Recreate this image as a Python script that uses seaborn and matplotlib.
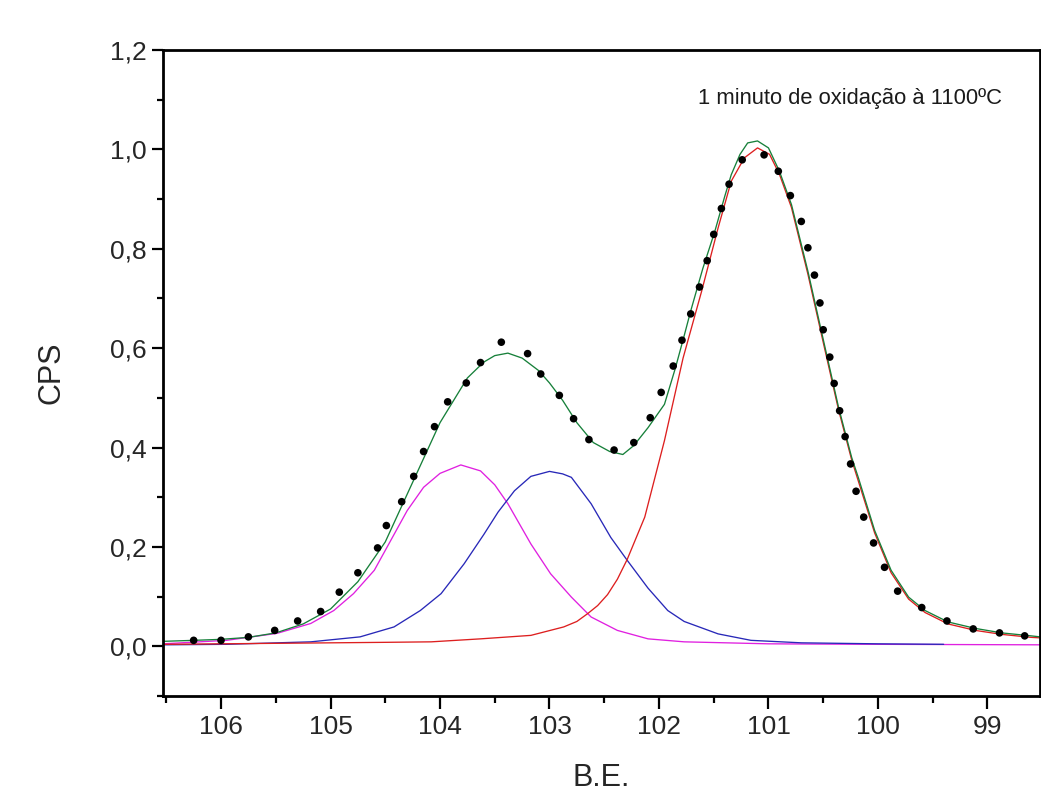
import matplotlib
matplotlib.use("Agg")
import matplotlib.pyplot as plt
from matplotlib.ticker import MultipleLocator, FuncFormatter
import seaborn as sns

# ---- data ----
data_x = [106.25, 106.00, 105.75, 105.51, 105.30, 105.09, 104.92, 104.75, 104.57, 104.49,
          104.35, 104.24, 104.15, 104.05, 103.93, 103.76, 103.63, 103.44, 103.20, 103.08,
          102.91, 102.78, 102.64, 102.41, 102.23, 102.08, 101.98, 101.87, 101.79, 101.71,
          101.63, 101.56, 101.50, 101.43, 101.36, 101.24, 101.04, 100.91, 100.80, 100.70,
          100.64, 100.58, 100.53, 100.50, 100.44, 100.40, 100.35, 100.30, 100.25, 100.20,
          100.13, 100.04, 99.94, 99.82, 99.60, 99.37, 99.13, 98.89, 98.66]
data_y = [0.012, 0.012, 0.019, 0.032, 0.051, 0.070, 0.109, 0.148, 0.198, 0.243,
          0.291, 0.342, 0.392, 0.442, 0.492, 0.530, 0.571, 0.612, 0.589, 0.548,
          0.505, 0.458, 0.416, 0.395, 0.410, 0.460, 0.511, 0.564, 0.616, 0.669,
          0.723, 0.776, 0.829, 0.881, 0.930, 0.979, 0.989, 0.956, 0.907, 0.855,
          0.802, 0.747, 0.691, 0.637, 0.582, 0.529, 0.474, 0.422, 0.367, 0.312,
          0.260, 0.208, 0.159, 0.111, 0.078, 0.051, 0.035, 0.027, 0.021]

env_x = [106.53, 106.25, 106.0, 105.75, 105.5, 105.25, 105.0, 104.75, 104.5, 104.25,
         104.0, 103.75, 103.6, 103.5, 103.38, 103.25, 103.1, 103.0, 102.88, 102.75,
         102.6, 102.45, 102.33, 102.23, 102.1, 101.95, 101.85, 101.77, 101.71, 101.6,
         101.49, 101.4, 101.34, 101.26, 101.19, 101.10, 101.00, 100.90, 100.79, 100.64,
         100.49, 100.36, 100.24, 100.18, 100.03, 99.88, 99.72, 99.57, 99.36, 99.11,
         98.87, 98.6, 98.52]
env_y = [0.010, 0.012, 0.014, 0.018, 0.027, 0.045, 0.075, 0.13, 0.21, 0.33,
         0.45, 0.54, 0.572, 0.585, 0.590, 0.58, 0.555, 0.53, 0.495, 0.45,
         0.41, 0.392, 0.386, 0.404, 0.44, 0.487, 0.56, 0.625, 0.675, 0.76,
         0.835, 0.905, 0.949, 0.99, 1.013, 1.017, 1.003, 0.956, 0.889, 0.755,
         0.608, 0.481, 0.38, 0.34, 0.233, 0.153, 0.099, 0.072, 0.049, 0.036,
         0.027, 0.021, 0.019]

p1_x = [106.53, 105.5, 104.5, 104.08, 103.63, 103.17, 102.87, 102.75, 102.65, 102.56,
        102.47, 102.38, 102.29, 102.13, 101.95, 101.78, 101.61, 101.46, 101.34, 101.22,
        101.10, 100.99, 100.90, 100.79, 100.64, 100.49, 100.36, 100.24, 100.03, 99.88,
        99.72, 99.57, 99.36, 99.11, 98.87, 98.6, 98.52]
p1_y = [0.004, 0.006, 0.008, 0.009, 0.015, 0.022, 0.039, 0.050, 0.066, 0.082,
        0.104, 0.135, 0.175, 0.26, 0.414, 0.58, 0.715, 0.842, 0.936, 0.983,
        1.003, 0.99, 0.95, 0.883, 0.749, 0.602, 0.476, 0.375, 0.228, 0.148,
        0.095, 0.068, 0.045, 0.032, 0.024, 0.018, 0.017]

p2_x = [106.53, 105.95, 105.18, 104.73, 104.42, 104.18, 103.99, 103.78, 103.6, 103.47,
        103.32, 103.17, 103.0, 102.88, 102.80, 102.62, 102.44, 102.29, 102.10, 101.92,
        101.77, 101.46, 101.16, 100.70, 100.0, 99.4]
p2_y = [0.003, 0.004, 0.009, 0.019, 0.039, 0.072, 0.106, 0.166, 0.225, 0.270,
        0.313, 0.342, 0.352, 0.347, 0.340, 0.287, 0.219, 0.173, 0.117, 0.072,
        0.050, 0.025, 0.012, 0.007, 0.005, 0.004]

p3_x = [106.53, 105.95, 105.49, 105.18, 104.97, 104.79, 104.60, 104.45, 104.30, 104.15,
        104.0, 103.81, 103.63, 103.5, 103.38, 103.17, 102.99, 102.80, 102.62, 102.38,
        102.10, 101.77, 101.0, 100.0, 98.52]
p3_y = [0.005, 0.012, 0.026, 0.046, 0.072, 0.106, 0.153, 0.213, 0.273, 0.320,
        0.348, 0.365, 0.353, 0.325, 0.287, 0.206, 0.146, 0.099, 0.059, 0.032,
        0.015, 0.009, 0.005, 0.004, 0.003]

annotation = "1 minuto de oxidação à 1100ºC"
x_label = "B.E."
y_label = "CPS"

# ---- style ----
sns.set_style("white")
plt.rcParams["font.family"] = ["Liberation Sans", "DejaVu Sans"]
plt.rcParams["text.color"] = "#1a1a1a"

fig = plt.figure(figsize=(10.41, 7.93), dpi=100)
ax = fig.add_axes([163 / 1041, 97 / 793, 877 / 1041, 646 / 793])

lw = 0.95
sns.lineplot(x=p3_x, y=p3_y, ax=ax, color="#e020e0", lw=lw, estimator=None)
sns.lineplot(x=p2_x, y=p2_y, ax=ax, color="#2828b8", lw=lw, estimator=None)
sns.lineplot(x=p1_x, y=p1_y, ax=ax, color="#dd1f1f", lw=lw, estimator=None)
sns.lineplot(x=env_x, y=env_y, ax=ax, color="#17803a", lw=lw, estimator=None)
sns.scatterplot(x=data_x, y=data_y, ax=ax, color="black", s=30, marker="o",
                edgecolor="none", zorder=5)

ax.set_xlim(106.53, 98.52)
ax.set_ylim(-0.1, 1.2)

ax.xaxis.set_major_locator(MultipleLocator(1))
ax.xaxis.set_minor_locator(MultipleLocator(0.5))
ax.yaxis.set_major_locator(MultipleLocator(0.2))
ax.yaxis.set_minor_locator(MultipleLocator(0.1))
ax.yaxis.set_major_formatter(FuncFormatter(lambda v, p: f"{v:.1f}".replace(".", ",").replace("-0,0", "0,0")))
ax.xaxis.set_major_formatter(FuncFormatter(lambda v, p: f"{v:.0f}"))

for s in ax.spines.values():
    s.set_linewidth(2.0)
    s.set_color("black")

ax.tick_params(axis="both", which="both", direction="out", color="black",
               bottom=True, left=True, top=False, right=False)
ax.tick_params(axis="x", which="major", length=9, width=1.6, labelsize=19, pad=5)
ax.tick_params(axis="x", which="minor", length=5, width=1.6)
ax.tick_params(axis="y", which="major", length=8, width=1.6, labelsize=19, pad=4)
ax.tick_params(axis="y", which="minor", length=4, width=1.6)

ax.set_xlabel(x_label, fontsize=22, labelpad=17)
ax.set_ylabel(y_label, fontsize=22, labelpad=31)

fig.text(698 / 1041, 1 - 104 / 793, annotation, fontsize=15.8, ha="left", va="baseline")

fig.savefig("out.png", dpi=100)
